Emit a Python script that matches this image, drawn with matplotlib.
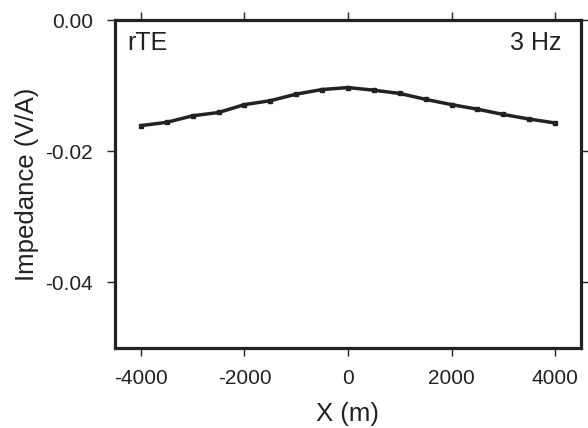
import matplotlib
matplotlib.use("Agg")
import matplotlib.pyplot as plt

x_m = [-4000, -3500, -3000, -2500, -2000, -1500, -1000, -500, 0,
       500, 1000, 1500, 2000, 2500, 3000, 3500, 4000]
impedance = [-0.0161, -0.0156, -0.0146, -0.0141, -0.0129, -0.0123, -0.0113, -0.0106, -0.0103,
             -0.0107, -0.0112, -0.0121, -0.0129, -0.0136, -0.0144, -0.0151, -0.0157]
xticks = [-4000, -2000, 0, 2000, 4000]
yticks = [0.0, -0.02, -0.04]
ytick_labels = ["0.00", "-0.02", "-0.04"]

plt.rcParams['font.family'] = ['Liberation Sans', 'DejaVu Sans']
plt.rcParams['axes.unicode_minus'] = False

fig = plt.figure(figsize=(5.88, 4.28), dpi=100)
ax = fig.add_axes([115/588, 1-348/428, (581-115)/588, (348-20)/428])

dark = '#222222'
ax.plot(x_m, impedance, color=dark, lw=2.5, marker='s', ms=3.2, solid_joinstyle='round')

ax.set_xlim(-4500, 4500)
ax.set_ylim(-0.05, 0.0)
ax.set_xticks(xticks)
ax.set_yticks(yticks)
ax.set_yticklabels(ytick_labels)

for s in ax.spines.values():
    s.set_linewidth(2.3)
    s.set_color(dark)

ax.tick_params(axis='both', which='both', direction='out', length=6, width=1.0,
               color=dark, labelsize=15, labelcolor=dark,
               top=True, right=True)
ax.tick_params(axis='y', pad=10)
ax.tick_params(axis='x', pad=9)

ax.set_xlabel("X (m)", fontsize=18.5, color=dark, labelpad=10)
ax.set_ylabel("Impedance (V/A)", fontsize=18.5, color=dark, labelpad=4)

ax.text(0.027, 0.965, "rTE", transform=ax.transAxes, fontsize=18, ha='left', va='top', color=dark)
ax.text(0.958, 0.965, "3 Hz", transform=ax.transAxes, fontsize=18, ha='right', va='top', color=dark)

fig.savefig("out.png", dpi=100)
